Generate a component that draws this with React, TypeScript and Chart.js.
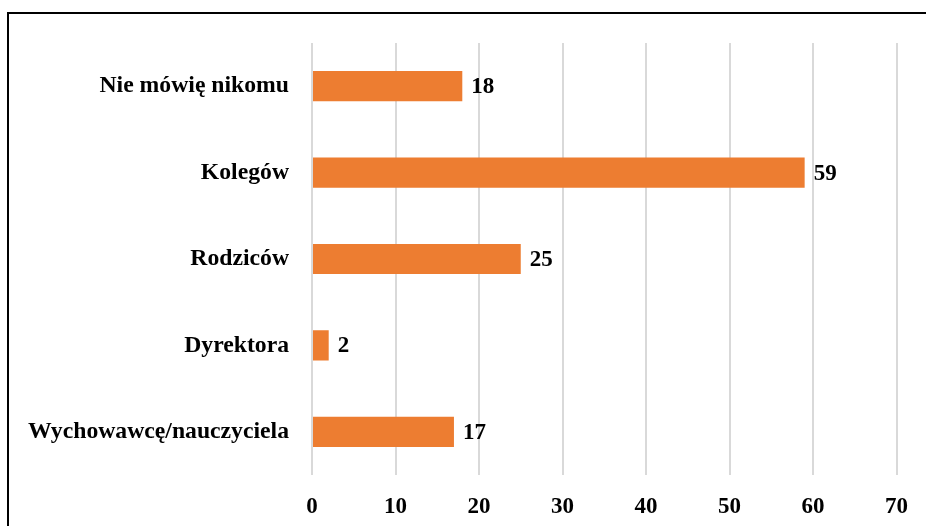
import React, { useEffect, useRef } from "react";
import { Chart, registerables } from "chart.js";

Chart.register(...registerables);

const categories = [
  "Nie mówię nikomu",
  "Kolegów",
  "Rodziców",
  "Dyrektora",
  "Wychowawcę/nauczyciela",
];
const values = [18, 59, 25, 2, 17];
const xMin = 0;
const xMax = 70;
const xStep = 10;

const FONT = "'Liberation Serif', 'Times New Roman', serif";

const dataLabels = {
  id: "dataLabels",
  afterDatasetsDraw(chart: any) {
    const ctx = chart.ctx;
    const meta = chart.getDatasetMeta(0);
    ctx.save();
    ctx.font = `bold 23px ${FONT}`;
    ctx.fillStyle = "#000";
    ctx.textAlign = "left";
    ctx.textBaseline = "middle";
    meta.data.forEach((bar: any, i: number) => {
      ctx.fillText(String(values[i]), bar.x + 9, bar.y + 1);
    });
    ctx.restore();
  },
};

export default function App() {
  const ref = useRef<HTMLCanvasElement | null>(null);
  useEffect(() => {
    if (!ref.current) return;
    const chart = new Chart(ref.current, {
      type: "bar",
      data: {
        labels: categories,
        datasets: [
          {
            data: values,
            backgroundColor: "#ED7D31",
            barPercentage: 0.35,
            categoryPercentage: 1,
          },
        ],
      },
      options: {
        indexAxis: "y",
        responsive: false,
        animation: false,
        layout: { padding: { left: 0, top: 43, right: 28, bottom: 0 } },
        plugins: { legend: { display: false }, tooltip: { enabled: false } },
        scales: {
          x: {
            min: xMin,
            max: xMax,
            ticks: {
              stepSize: xStep,
              color: "#000",
              padding: 18,
              font: { family: FONT, size: 23, weight: "bold" },
            },
            grid: { color: "#d9d9d9", lineWidth: 2, drawTicks: false },
            border: { display: false },
            afterFit: (scale: any) => {
              scale.height = 51;
            },
          },
          y: {
            ticks: {
              color: "#000",
              padding: 23,
              font: { family: FONT, size: 23.7, weight: "bold" },
            },
            grid: { display: false, drawTicks: false },
            border: { display: false },
            afterFit: (scale: any) => {
              scale.width = 312;
            },
          },
        },
      },
      plugins: [dataLabels],
    });
    return () => chart.destroy();
  }, []);

  return (
    <div>
      <canvas
        ref={ref}
        width={926}
        height={526}
        style={{ position: "fixed", left: 0, top: 0, width: 926, height: 526 }}
      />
      <div
        style={{
          position: "fixed",
          left: 7,
          top: 12,
          width: 1000,
          height: 600,
          borderLeft: "2px solid #000",
          borderTop: "2px solid #000",
          pointerEvents: "none",
        }}
      />
    </div>
  );
}
